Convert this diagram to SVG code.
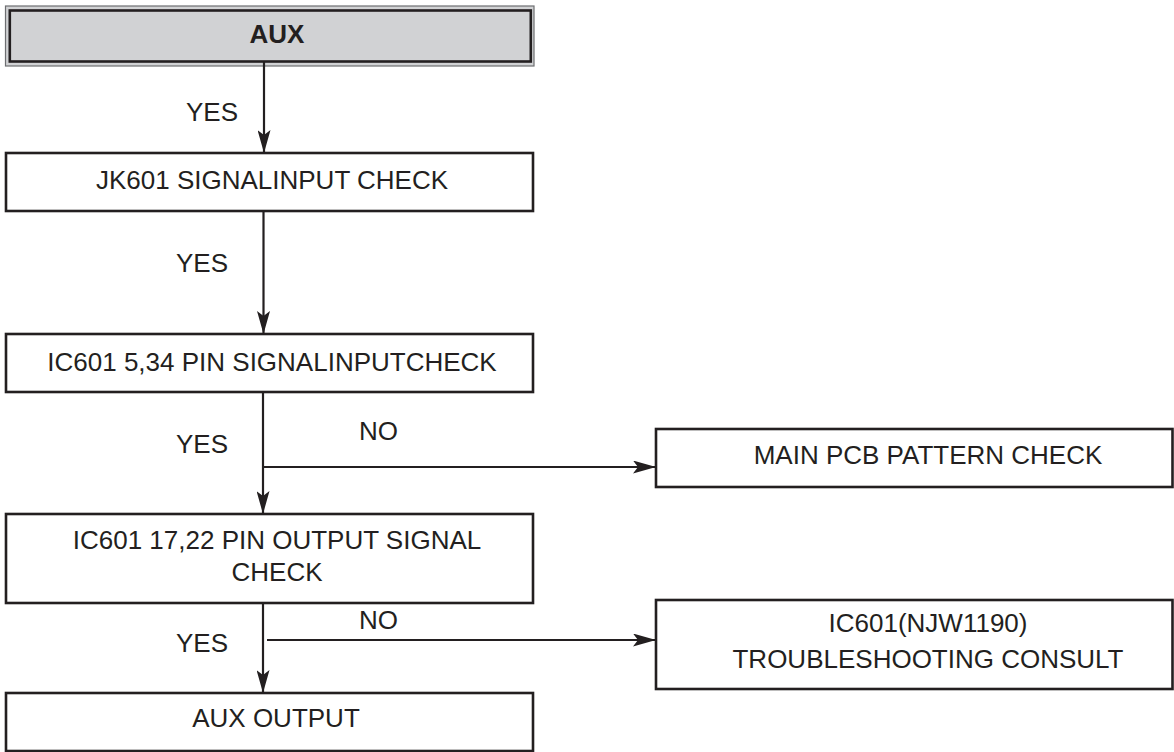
<svg xmlns="http://www.w3.org/2000/svg" width="1174" height="752" viewBox="0 0 1174 752">
<defs>
<marker id="arr" markerWidth="23" markerHeight="13" refX="23" refY="6.5" orient="auto" markerUnits="userSpaceOnUse">
<path d="M0,0 L23,6.5 L0,13 L5,6.5 Z" fill="#231f20"/>
</marker>
<style>
.box{fill:#fff;stroke:#231f20;stroke-width:2.6}
.t{font-family:"Liberation Sans",Arial,sans-serif;font-size:26px;fill:#231f20;text-anchor:middle}
.lbl{font-family:"Liberation Sans",Arial,sans-serif;font-size:26px;fill:#231f20}
.ln{stroke:#231f20;stroke-width:2.2;fill:none}
</style>
</defs>
<rect width="1174" height="752" fill="#fff"/>
<g id="aux">
<rect x="5.5" y="6" width="528.5" height="60" fill="#d1d2d4" stroke="#6d6e71" stroke-width="1.2"/>
<rect x="9.8" y="10.5" width="521" height="51" fill="#d1d2d4" stroke="#231f20" stroke-width="2.6"/>
<text class="t" x="277" y="43" font-weight="bold">AUX</text>
</g>
<g id="jk601">
<rect class="box" x="6" y="153" width="527" height="58"/>
<text class="t" x="272" y="189">JK601 SIGNALINPUT CHECK</text>
</g>
<g id="ic601in">
<rect class="box" x="6" y="334" width="527" height="58"/>
<text class="t" x="272" y="371">IC601 5,34 PIN SIGNALINPUTCHECK</text>
</g>
<g id="mainpcb">
<rect class="box" x="656" y="429" width="516.5" height="58"/>
<text class="t" x="928" y="464">MAIN PCB PATTERN CHECK</text>
</g>
<g id="ic601out">
<rect class="box" x="6" y="514" width="527" height="89"/>
<text class="t" x="277" y="549">IC601 17,22 PIN OUTPUT SIGNAL</text>
<text class="t" x="277" y="581">CHECK</text>
</g>
<g id="ic601ts">
<rect class="box" x="656" y="600" width="516.5" height="89"/>
<text class="t" x="928" y="632">IC601(NJW1190)</text>
<text class="t" x="928" y="668">TROUBLESHOOTING CONSULT</text>
</g>
<g id="auxout">
<rect class="box" x="6" y="693" width="527" height="58"/>
<text class="t" x="276" y="727">AUX OUTPUT</text>
</g>
<g id="connectors">
<line class="ln" x1="264" y1="62" x2="264" y2="153" marker-end="url(#arr)"/>
<line class="ln" x1="263.5" y1="211" x2="263.5" y2="334" marker-end="url(#arr)"/>
<line class="ln" x1="263" y1="392" x2="263" y2="514" marker-end="url(#arr)"/>
<line class="ln" x1="263" y1="467" x2="656" y2="467" marker-end="url(#arr)"/>
<line class="ln" x1="263" y1="603" x2="263" y2="693" marker-end="url(#arr)"/>
<line class="ln" x1="267" y1="640" x2="656" y2="640" marker-end="url(#arr)"/>
<text class="lbl" x="186" y="121">YES</text>
<text class="lbl" x="176" y="272">YES</text>
<text class="lbl" x="176" y="453">YES</text>
<text class="lbl" x="359" y="440">NO</text>
<text class="lbl" x="176" y="652">YES</text>
<text class="lbl" x="359" y="629">NO</text>
</g>
</svg>
